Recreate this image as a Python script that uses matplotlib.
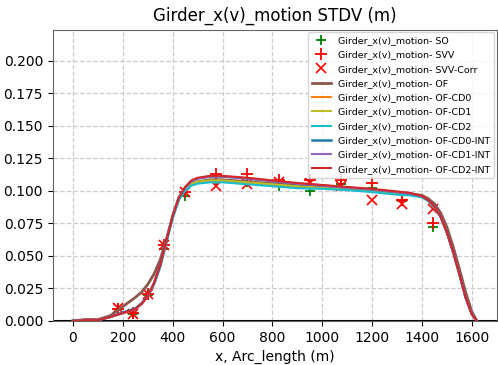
import matplotlib
matplotlib.use("Agg")
import matplotlib.pyplot as plt

# Arc-length stations along the girder (m)
x_arc = [0, 50, 100, 150, 200, 250, 275, 300, 325, 350, 375, 400, 425, 450,
         475, 500, 550, 600, 700, 800, 900, 1000, 1100, 1200, 1300, 1350,
         1400, 1425, 1450, 1475, 1500, 1525, 1550, 1575, 1600, 1620]

# Simulated STDV curves (m)
of = [0.000, 0.001, 0.001, 0.004, 0.011, 0.018, 0.022, 0.028, 0.036, 0.047,
      0.063, 0.080, 0.094, 0.101, 0.105, 0.107, 0.1085, 0.1085, 0.107, 0.1055,
      0.104, 0.1025, 0.1015, 0.100, 0.0985, 0.0978, 0.0965, 0.094, 0.090, 0.083,
      0.072, 0.057, 0.040, 0.022, 0.007, 0.000]
of_cd0 = [0.000, 0.0005, 0.0005, 0.003, 0.006, 0.009, 0.013, 0.019, 0.028,
          0.042, 0.061, 0.080, 0.094, 0.101, 0.105, 0.1065, 0.1075, 0.1075,
          0.106, 0.1045, 0.103, 0.102, 0.101, 0.0995, 0.0975, 0.097, 0.0955,
          0.0925, 0.0875, 0.080, 0.068, 0.053, 0.036, 0.018, 0.005, 0.000]
of_cd1 = [0.000, 0.0005, 0.0005, 0.003, 0.006, 0.009, 0.013, 0.019, 0.028,
          0.042, 0.061, 0.080, 0.094, 0.101, 0.105, 0.107, 0.108, 0.108,
          0.1065, 0.105, 0.1035, 0.1025, 0.1015, 0.100, 0.098, 0.0975, 0.0955,
          0.0925, 0.0875, 0.080, 0.068, 0.053, 0.036, 0.018, 0.005, 0.000]
of_cd2 = [0.000, 0.0005, 0.0005, 0.003, 0.006, 0.009, 0.013, 0.019, 0.028,
          0.041, 0.060, 0.079, 0.093, 0.100, 0.104, 0.1055, 0.1065, 0.1065,
          0.105, 0.1035, 0.102, 0.1015, 0.1005, 0.099, 0.097, 0.0965, 0.095,
          0.092, 0.087, 0.080, 0.068, 0.053, 0.036, 0.018, 0.005, 0.000]
of_cd0_int = [0.000, 0.0005, 0.0005, 0.003, 0.0065, 0.0095, 0.0135, 0.019,
              0.029, 0.043, 0.062, 0.081, 0.095, 0.1025, 0.1075, 0.1095,
              0.111, 0.111, 0.1095, 0.1075, 0.1055, 0.104, 0.1025, 0.101,
              0.099, 0.098, 0.0958, 0.0928, 0.088, 0.080, 0.068, 0.053, 0.036,
              0.018, 0.005, 0.000]
of_cd1_int = [0.000, 0.0005, 0.0005, 0.003, 0.006, 0.009, 0.013, 0.019,
              0.029, 0.043, 0.062, 0.081, 0.095, 0.1025, 0.1075, 0.1095,
              0.111, 0.111, 0.1095, 0.1075, 0.1055, 0.104, 0.1025, 0.101,
              0.099, 0.098, 0.0958, 0.0928, 0.088, 0.080, 0.068, 0.053, 0.036,
              0.018, 0.005, 0.000]
of_cd2_int = [0.000, 0.0005, 0.0005, 0.003, 0.006, 0.009, 0.013, 0.019,
              0.029, 0.043, 0.062, 0.081, 0.095, 0.103, 0.108, 0.110, 0.1115,
              0.1115, 0.110, 0.108, 0.106, 0.1045, 0.103, 0.1015, 0.0995,
              0.0985, 0.096, 0.093, 0.088, 0.080, 0.068, 0.053, 0.036, 0.018,
              0.005, 0.000]

# Measured STDV (m)
x_meas = [180, 240, 300, 365, 450, 575, 700, 825, 950, 1075, 1200, 1320, 1445]
so = [0.009, 0.005, 0.020, 0.055, 0.096, 0.108, 0.107, 0.104, 0.100, 0.105,
      0.102, 0.092, 0.072]
svv = [0.009, 0.006, 0.021, 0.058, 0.099, 0.113, 0.113, 0.108, 0.108, 0.108,
       0.106, 0.093, 0.075]
svv_corr = [0.010, 0.005, 0.021, 0.058, 0.099, 0.104, 0.105, 0.107, 0.106,
            0.104, 0.093, 0.090, 0.086]

prefix = "Girder_x(v)_motion- "

fig = plt.figure(figsize=(4.98, 3.65), dpi=100)
ax = fig.add_axes([0.106, 0.121, 0.892, 0.798])

ax.plot(x_meas, so, linestyle="none", marker="+", color="green", ms=7, mew=1.3,
        label=prefix + "SO")
ax.plot(x_meas, svv, linestyle="none", marker="+", color="red", ms=8, mew=1.3,
        label=prefix + "SVV")
ax.plot(x_meas, svv_corr, linestyle="none", marker="x", color="red", ms=7,
        mew=1.2, label=prefix + "SVV-Corr")

ax.plot(x_arc, of, color="tab:brown", lw=2.0, label=prefix + "OF")
ax.plot(x_arc, of_cd0, color="tab:orange", lw=1.5, label=prefix + "OF-CD0")
ax.plot(x_arc, of_cd1, color="tab:olive", lw=1.5, label=prefix + "OF-CD1")
ax.plot(x_arc, of_cd2, color="tab:cyan", lw=1.5, label=prefix + "OF-CD2")
ax.plot(x_arc, of_cd0_int, color="tab:blue", lw=1.8, label=prefix + "OF-CD0-INT")
ax.plot(x_arc, of_cd1_int, color="tab:purple", lw=1.5, label=prefix + "OF-CD1-INT")
ax.plot(x_arc, of_cd2_int, color="tab:red", lw=1.5, label=prefix + "OF-CD2-INT")

ax.axhline(0, color="black", lw=1.5, zorder=1)
ax.set_ylim(0, 0.224)
ax.set_yticks([0.0, 0.025, 0.05, 0.075, 0.1, 0.125, 0.15, 0.175, 0.2])
ax.set_xticks([0, 200, 400, 600, 800, 1000, 1200, 1400, 1600])
ax.grid(True, linestyle="--", color="#cccccc", lw=0.9)
ax.set_axisbelow(True)
for s in ax.spines.values():
    s.set_color("#666666")

ax.set_title("Girder_x(v)_motion STDV (m)", fontsize=12)
ax.set_xlabel("x, Arc_length (m)", fontsize=10)
ax.tick_params(labelsize=10)
ax.legend(loc="upper right", fontsize=6.8, labelspacing=0.56, handlelength=2.0,
          borderaxespad=0.3, framealpha=0.8)

fig.savefig("out.png", dpi=100)
